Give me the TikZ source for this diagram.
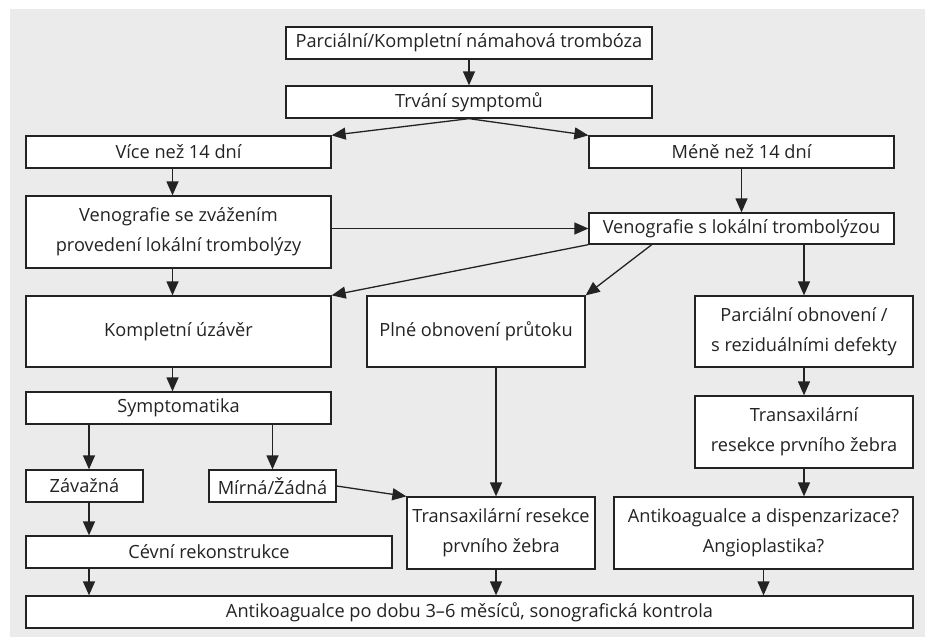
\documentclass[tikz,border=0pt]{standalone}
\usepackage{fontspec}
\setmainfont{Open Sans}
\usetikzlibrary{arrows.meta,calc}
\definecolor{bggray}{RGB}{235,235,235}
\definecolor{inkgray}{RGB}{35,35,35}

\begin{document}
\begin{tikzpicture}[x=1pt,y=-1pt, line join=miter, >={Triangle[length=14pt,width=12pt]},
  box/.style={draw=inkgray, line width=1.3pt, fill=white, inner sep=0pt, align=center,
    text=inkgray, font=\fontsize{18.2}{30}\selectfont},
  arr/.style={->, draw=inkgray, line width=1.3pt}]
\useasboundingbox (0,0) rectangle (925,637);
\fill[bggray] (10,9) rectangle (925,637);
% boxes
\node[box, minimum width=366pt, minimum height=32pt] (start) at (469,43) {Parciální/Kompletní námahová trombóza};
\node[box, minimum width=366pt, minimum height=32pt] (trvani) at (469,102) {Trvání symptomů};
\node[box, minimum width=305pt, minimum height=32pt] (vice) at (178.5,152) {Více než 14 dní};
\node[box, minimum width=305pt, minimum height=32pt] (mene) at (741.5,152) {Méně než 14 dní};
\node[box, minimum width=305pt, minimum height=72pt] (venoa) at (178.5,232) {Venografie se zvážením\\provedení lokální trombolýzy};
\node[box, minimum width=305pt, minimum height=31pt] (venob) at (741.5,228.5) {Venografie s lokální trombolýzou};
\node[box, minimum width=305pt, minimum height=71pt] (kompl) at (178.5,331.5) {Kompletní úzávěr};
\node[box, minimum width=218pt, minimum height=71pt] (plne) at (476,331.5) {Plné obnovení průtoku};
\node[box, minimum width=218pt, minimum height=71pt] (parc) at (804,331.5) {Parciální obnovení /\\s reziduálními defekty};
\node[box, minimum width=305pt, minimum height=32pt] (symp) at (178.5,408) {Symptomatika};
\node[box, minimum width=218pt, minimum height=72pt] (transr) at (804,432) {Transaxilární\\resekce prvního žebra};
\node[box, minimum width=117pt, minimum height=32pt] (zav) at (84.5,486) {Závažná};
\node[box, minimum width=127pt, minimum height=32pt] (mirna) at (272.5,486) {Mírná/Žádná};
\node[box, minimum width=188pt, minimum height=72pt] (transm) at (501,533) {Transaxilární resekce\\prvního žebra};
\node[box, minimum width=299pt, minimum height=72pt] (antid) at (763.5,533) {Antikoagualce a dispenzarizace?\\Angioplastika?};
\node[box, minimum width=366pt, minimum height=32pt] (cevni) at (209,552) {Cévní rekonstrukce};
\node[box, minimum width=887pt, minimum height=32pt] (anti) at (469.5,612) {Antikoagualce po dobu 3–6 měsíců, sonografická kontrola};
% arrows
\draw[arr] (start) -- (trvani);
\draw[arr] (trvani.south) -- (vice.north east);
\draw[arr] (trvani.south) -- (mene.north west);
\draw[arr] ([xshift=-6pt]vice.south) -- ([xshift=-6pt]venoa.north);
\draw[arr] (mene) -- (venob);
\draw[arr] (venoa.east |- venob.west) -- (venob.west);
\draw[arr] ([xshift=-6pt]venoa.south) -- ([xshift=-6pt]kompl.north);
\draw[arr] (venob.south west) -- (kompl.north east);
\draw[arr] ($(venob.south west)!0.207!(venob.south east)$) -- (plne.north east);
\draw[arr] (parc.north |- venob.south) -- (parc.north);
\draw[arr] (parc) -- (transr);
\draw[arr] ([xshift=-6pt]kompl.south) -- ([xshift=-6pt]symp.north);
\draw[arr] ([xshift=4.5pt]zav.north |- symp.south) -- ([xshift=4.5pt]zav.north);
\draw[arr] (mirna.north |- symp.south) -- (mirna.north);
\draw[arr] (mirna.east) -- (transm.north west);
\draw[arr] ([xshift=-5pt]transm.north |- plne.south) -- ([xshift=-5pt]transm.north);
\draw[arr] (transr.south) -- (transr.south |- antid.north);
\draw[arr] ([xshift=4.5pt]zav.south) -- ([xshift=4.5pt]zav.south |- cevni.north);
\draw[arr] ([xshift=4.5pt]cevni.south -| zav.south) -- ([xshift=4.5pt]zav.south |- anti.north);
\draw[arr] ([xshift=-5pt]transm.south) -- ([xshift=-5pt]transm.south |- anti.north);
\draw[arr] (antid.south) -- (antid.south |- anti.north);
\end{tikzpicture}
\end{document}
